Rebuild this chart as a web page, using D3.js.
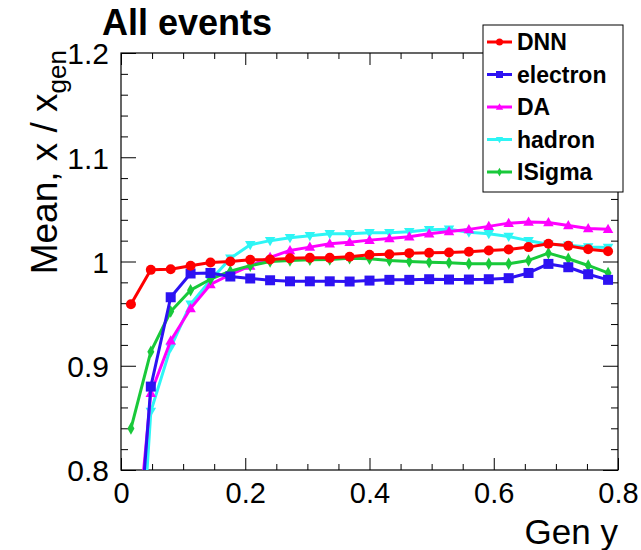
<!DOCTYPE html>
<html>
<head>
<meta charset="utf-8">
<script src="https://cdn.jsdelivr.net/npm/d3@7/dist/d3.min.js"></script>
<style>
  html, body { margin: 0; padding: 0; background: #ffffff; }
  svg { display: block; }
  text { font-family: "Liberation Sans", Arial, Helvetica, sans-serif; }
</style>
</head>
<body>
<div id="chart"></div>
<script>
// ---------------- DATA ----------------
const genY = [0.016, 0.048, 0.080, 0.112, 0.144, 0.176, 0.208, 0.240, 0.272, 0.304,
              0.336, 0.368, 0.400, 0.432, 0.464, 0.496, 0.528, 0.560, 0.592, 0.624,
              0.656, 0.688, 0.720, 0.752, 0.784];

const dnn = [0.959, 0.992, 0.9926, 0.996, 0.999, 1.000, 1.0016, 1.002, 1.003, 1.0035,
             1.0035, 1.0045, 1.0064, 1.007, 1.008, 1.0083, 1.0087, 1.0093, 1.0106, 1.0115,
             1.0138, 1.017, 1.015, 1.0118, 1.0099];

const electron = [0.63, 0.880, 0.9657, 0.9885, 0.989, 0.9856, 0.9837, 0.982, 0.981, 0.981,
                  0.981, 0.9808, 0.9817, 0.9824, 0.9824, 0.983, 0.9827, 0.9827, 0.983, 0.984,
                  0.989, 0.9977, 0.9945, 0.9878, 0.9824];

const da = [0.669, 0.8737, 0.924, 0.955, 0.978, 0.9875, 0.9958, 1.004, 1.0106, 1.0138,
            1.017, 1.0185, 1.0205, 1.022, 1.0237, 1.0266, 1.0288, 1.0308, 1.0337, 1.0368,
            1.038, 1.0375, 1.0346, 1.0317, 1.031];

const hadron = [0.5615, 0.856, 0.9176, 0.959, 0.982, 1.003, 1.016, 1.020, 1.0228, 1.0247,
                1.0266, 1.0266, 1.0276, 1.0276, 1.0285, 1.0305, 1.031, 1.028, 1.0266, 1.024,
                1.020, 1.0165, 1.0155, 1.014, 1.0135];

const iSigma = [0.8397, 0.9135, 0.952, 0.9725, 0.983, 0.9907, 0.996, 1.000, 1.001, 1.0016,
                1.002, 1.003, 1.0026, 1.001, 1.000, 0.9994, 0.9987, 0.9978, 0.9978, 0.9978,
                1.001, 1.008, 1.0026, 0.9962, 0.989];

const seriesNames = ["DNN", "electron", "DA", "hadron", "ISigma"];
const xTickValues = [0, 0.2, 0.4, 0.6, 0.8];
const yTickValues = [0.8, 0.9, 1.0, 1.1, 1.2];
const titleText = "All events";
const xTitle = "Gen y";

// ---------------- STYLE / LAYOUT ----------------
const W = 641, H = 550;
const fx0 = 121, fx1 = 618, fy0 = 53, fy1 = 470;

const styles = {
  "DNN":      { color: "#ff0000", symbol: "circle" },
  "electron": { color: "#2d12f2", symbol: "square" },
  "DA":       { color: "#ff00ff", symbol: "triUp" },
  "hadron":   { color: "#2ef5f5", symbol: "triDown" },
  "ISigma":   { color: "#19c93a", symbol: "diamond" }
};
const valuesByName = { "DNN": dnn, "electron": electron, "DA": da, "hadron": hadron, "ISigma": iSigma };
const drawOrder = ["hadron", "DA", "ISigma", "electron", "DNN"];

const svg = d3.select("#chart").append("svg")
  .attr("width", W).attr("height", H);

const x = d3.scaleLinear().domain([0, 0.8]).range([fx0, fx1]);
const y = d3.scaleLinear().domain([0.8, 1.2]).range([fy1, fy0]);

svg.append("defs").append("clipPath").attr("id", "frameClip")
  .append("rect").attr("x", fx0).attr("y", fy0).attr("width", fx1 - fx0).attr("height", fy1 - fy0);

function markerPath(sym, s) {
  if (sym === "circle") return d3.symbol().type(d3.symbolCircle).size(Math.PI * s * s)();
  if (sym === "square") return `M${-s},${-s}H${s}V${s}H${-s}Z`;
  if (sym === "triUp") return `M0,${-s * 1.1}L${s * 1.05},${s * 0.75}L${-s * 1.05},${s * 0.75}Z`;
  if (sym === "triDown") return `M0,${s * 1.1}L${s * 1.05},${-s * 0.75}L${-s * 1.05},${-s * 0.75}Z`;
  if (sym === "diamond") return `M0,${-s * 1.25}L${s * 0.7},0L0,${s * 1.25}L${-s * 0.7},0Z`;
  return "";
}

// ---------------- AXES ----------------
const fmt = d => String(+d.toFixed(2));

function styleAxis(g) {
  g.select(".domain").remove();
  g.selectAll(".tick line").attr("stroke", "#000").attr("stroke-width", 1);
}

const xMinor = d3.range(0, 0.8001, 0.05).filter(v => Math.abs(v / 0.2 - Math.round(v / 0.2)) > 1e-6);
const yMinor = d3.range(0.8, 1.2001, 0.02).filter(v => Math.abs((v - 0.8) / 0.1 - Math.round((v - 0.8) / 0.1)) > 1e-6);

// bottom
svg.append("g").attr("transform", `translate(0,${fy1})`)
  .call(d3.axisBottom(x).tickValues(xMinor).tickSize(-6).tickFormat(""))
  .call(styleAxis);
const gxb = svg.append("g").attr("transform", `translate(0,${fy1})`)
  .call(d3.axisBottom(x).tickValues(xTickValues).tickSize(-12).tickFormat(fmt))
  .call(styleAxis);
gxb.selectAll(".tick text")
  .attr("y", 33).attr("dy", 0)
  .attr("font-size", 29).attr("fill", "#000")
  .attr("font-family", "Liberation Sans, Arial, sans-serif");

// top
svg.append("g").attr("transform", `translate(0,${fy0})`)
  .call(d3.axisTop(x).tickValues(xMinor).tickSize(-6).tickFormat(""))
  .call(styleAxis);
svg.append("g").attr("transform", `translate(0,${fy0})`)
  .call(d3.axisTop(x).tickValues(xTickValues).tickSize(-12).tickFormat(""))
  .call(styleAxis);

// left
svg.append("g").attr("transform", `translate(${fx0},0)`)
  .call(d3.axisLeft(y).tickValues(yMinor).tickSize(-7).tickFormat(""))
  .call(styleAxis);
const gyl = svg.append("g").attr("transform", `translate(${fx0},0)`)
  .call(d3.axisLeft(y).tickValues(yTickValues).tickSize(-15).tickFormat(fmt))
  .call(styleAxis);
gyl.selectAll(".tick text")
  .attr("x", -12).attr("dy", "0.36em")
  .attr("font-size", 30).attr("fill", "#000")
  .attr("font-family", "Liberation Sans, Arial, sans-serif");

// right
svg.append("g").attr("transform", `translate(${fx1},0)`)
  .call(d3.axisRight(y).tickValues(yMinor).tickSize(-7).tickFormat(""))
  .call(styleAxis);
svg.append("g").attr("transform", `translate(${fx1},0)`)
  .call(d3.axisRight(y).tickValues(yTickValues).tickSize(-15).tickFormat(""))
  .call(styleAxis);

// frame
svg.append("rect").attr("x", fx0).attr("y", fy0)
  .attr("width", fx1 - fx0).attr("height", fy1 - fy0)
  .attr("fill", "none").attr("stroke", "#000").attr("stroke-width", 1.2);

// ---------------- DATA SERIES ----------------
const plot = svg.append("g").attr("clip-path", "url(#frameClip)");
const line = d3.line().x(d => x(d[0])).y(d => y(d[1]));

drawOrder.forEach(name => {
  const st = styles[name];
  const pts = genY.map((g, i) => [g, valuesByName[name][i]]);
  plot.append("path").datum(pts)
    .attr("d", line)
    .attr("fill", "none")
    .attr("stroke", st.color)
    .attr("stroke-width", 3)
    .attr("stroke-linejoin", "round");
  plot.selectAll(null).data(pts.filter(p => p[1] >= 0.8 && p[1] <= 1.2)).enter()
    .append("path")
    .attr("d", markerPath(st.symbol, 5))
    .attr("transform", p => `translate(${x(p[0])},${y(p[1])})`)
    .attr("fill", st.color);
});

// ---------------- TITLES ----------------
svg.append("text").attr("x", 102).attr("y", 35)
  .attr("font-size", 36).attr("font-weight", "bold").attr("fill", "#000")
  .text(titleText);

svg.append("text").attr("x", fx1).attr("y", 544)
  .attr("text-anchor", "end").attr("font-size", 35).attr("fill", "#000")
  .text(xTitle);

const yl = svg.append("text")
  .attr("transform", `translate(57,${fy0 - 3}) rotate(-90)`)
  .attr("text-anchor", "end").attr("font-size", 37).attr("fill", "#000");
yl.append("tspan").text("Mean, x / x");
yl.append("tspan").attr("dy", 9).attr("font-size", 26).text("gen");

// ---------------- LEGEND ----------------
const lx = 483, ly = 25, lw = 140, lh = 167;
svg.append("rect").attr("x", lx).attr("y", ly).attr("width", lw).attr("height", lh)
  .attr("fill", "#fff").attr("stroke", "#000").attr("stroke-width", 1);

seriesNames.forEach((name, k) => {
  const st = styles[name];
  const cy = ly + 17 + k * 32.5;
  const g = svg.append("g");
  g.append("line").attr("x1", lx + 4).attr("x2", lx + 29).attr("y1", cy).attr("y2", cy)
    .attr("stroke", st.color).attr("stroke-width", 3);
  g.append("path").attr("d", markerPath(st.symbol, 3.5))
    .attr("transform", `translate(${lx + 16.5},${cy})`).attr("fill", st.color);
  g.append("text").attr("x", lx + 34).attr("y", cy).attr("dy", "0.36em")
    .attr("font-size", 23).attr("font-weight", "bold").attr("fill", "#000")
    .text(name);
});
</script>
</body>
</html>
